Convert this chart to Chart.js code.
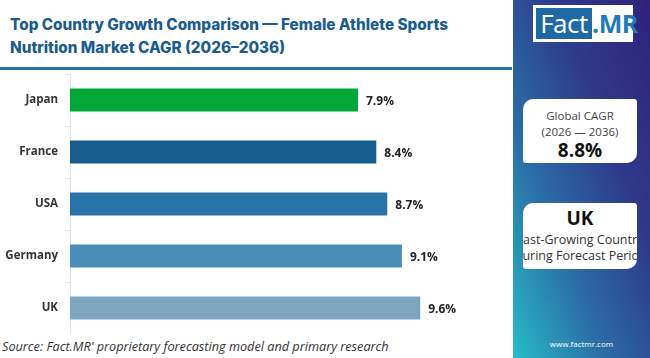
<!DOCTYPE html>
<html>
<head>
<meta charset="utf-8">
<script src="https://cdn.jsdelivr.net/npm/chart.js@4.4.1/dist/chart.umd.min.js"></script>
<style>
  html, body { margin:0; padding:0; }
  body { width:650px; height:358px; background:#fff; overflow:hidden; position:relative; font-family:"Open Sans", sans-serif; }
  #title { position:absolute; left:10px; top:13px; font:800 15.3px Inter, sans-serif; line-height:23px; color:#1b5c8d; }
  #hline { position:absolute; left:0; top:67px; width:512px; height:3px; background:#2b70a6; }
  #chartWrap { position:absolute; left:0; top:74px; width:512px; height:260px; }
  #source { position:absolute; left:2px; top:337px; font:italic 12.7px "Open Sans", sans-serif; color:#333; }
  #side { position:absolute; left:513px; top:0; width:137px; height:358px;
          background:linear-gradient(to bottom left, #30217a 0%, #2e3a8a 35%, #2b6fa8 68%, #27bcc6 100%); }
  #logo { position:absolute; left:20px; top:5px; width:100px; height:37px; background:#fff; }
  #logoFact { position:absolute; left:3px; top:3px; width:56px; height:31px; background:#1f6aa5; color:#fff;
              font:400 26px "Open Sans", sans-serif; line-height:31px; text-align:center; letter-spacing:-0.5px; }
  #logoMR { position:absolute; left:59px; top:3px; width:40px; height:31px; color:#1f7bb8;
            font:700 25px "Open Sans", sans-serif; line-height:31px; text-align:center; letter-spacing:-0.5px; }
  .box { position:absolute; left:10px; width:114px; background:#fff; overflow:hidden; text-align:center; color:#333; }
  #gbox { top:99px; height:64px; border-radius:10px 3px 10px 3px; }
  #ubox { top:203px; height:66px; border-radius:10px 3px 10px 3px; }
  .l1 { position:absolute; left:-30px; right:-30px; white-space:nowrap; text-align:center; }
  #www { position:absolute; left:0; width:137px; top:338px; text-align:center; color:#fff; font:400 8px "Open Sans", sans-serif; }
</style>
</head>
<body>
<div id="title">Top Country Growth Comparison — Female Athlete Sports<br>Nutrition Market CAGR (2026–2036)</div>
<div id="hline"></div>
<div id="chartWrap"><canvas id="c"></canvas></div>
<div id="source">Source: Fact.MR' proprietary forecasting model and primary research</div>
<div id="side">
  <div id="logo"><div id="logoFact">Fact</div><div id="logoMR">.MR</div></div>
  <div class="box" id="gbox">
    <div class="l1" style="top:9px;font:400 11.5px 'Open Sans',sans-serif;color:#444;">Global CAGR</div>
    <div class="l1" style="top:25px;font:400 11.5px 'Open Sans',sans-serif;color:#444;">(2026 — 2036)</div>
    <div class="l1" style="top:38px;font:700 19px 'Open Sans',sans-serif;color:#111;">8.8%</div>
  </div>
  <div class="box" id="ubox">
    <div class="l1" style="top:2px;font:700 19px 'Open Sans',sans-serif;color:#111;">UK</div>
    <div class="l1" style="top:28px;font:400 12.5px 'Open Sans',sans-serif;color:#333;">Fast-Growing Country</div>
    <div class="l1" style="top:44px;font:400 12.5px 'Open Sans',sans-serif;color:#333;">During Forecast Period</div>
  </div>
  <div id="www">www.factmr.com</div>
</div>
<script>
const categories = ["Japan", "France", "USA", "Germany", "UK"];
const cagrValues = [7.9, 8.4, 8.7, 9.1, 9.6];
const barColors = ["#00a937", "#175e8e", "#2874a9", "#498dba", "#7ea7bf"];
const valueLabels = ["7.9%", "8.4%", "8.7%", "9.1%", "9.6%"];

const valueLabelPlugin = {
  id: "valueLabels",
  afterDatasetsDraw(chart) {
    const ctx = chart.ctx;
    const meta = chart.getDatasetMeta(0);
    ctx.save();
    ctx.font = "700 12px 'Open Sans', sans-serif";
    ctx.fillStyle = "#222";
    ctx.textAlign = "left";
    ctx.textBaseline = "middle";
    meta.data.forEach((el, i) => {
      ctx.fillText(valueLabels[i], el.x + 7, el.y + 2);
    });
    ctx.restore();
  }
};

new Chart(document.getElementById("c"), {
  type: "bar",
  data: {
    labels: categories,
    datasets: [{
      data: cagrValues,
      backgroundColor: barColors,
      borderColor: "rgba(255,255,255,0.35)",
      borderWidth: 1,
      categoryPercentage: 0.5,
      barPercentage: 0.96
    }]
  },
  options: {
    indexAxis: "y",
    responsive: true,
    maintainAspectRatio: false,
    animation: false,
    layout: { padding: { left: 0, right: 3, top: 0, bottom: 0 } },
    plugins: { legend: { display: false }, tooltip: { enabled: false }, title: { display: false } },
    scales: {
      x: { display: false, min: 0, max: 12 },
      y: {
        afterFit(scale) { scale.width = 70; scale.paddingTop = 0; scale.paddingBottom = 0; },
        grid: { drawOnChartArea: false, drawTicks: true, tickLength: 5, color: "#e2e2e2", offset: true },
        border: { display: true, color: "#e2e2e2", width: 1 },
        ticks: { padding: 7, color: "#333", font: { family: "'Open Sans', sans-serif", weight: "700", size: 11.5 } }
      }
    }
  },
  plugins: [valueLabelPlugin]
});
</script>
</body>
</html>
